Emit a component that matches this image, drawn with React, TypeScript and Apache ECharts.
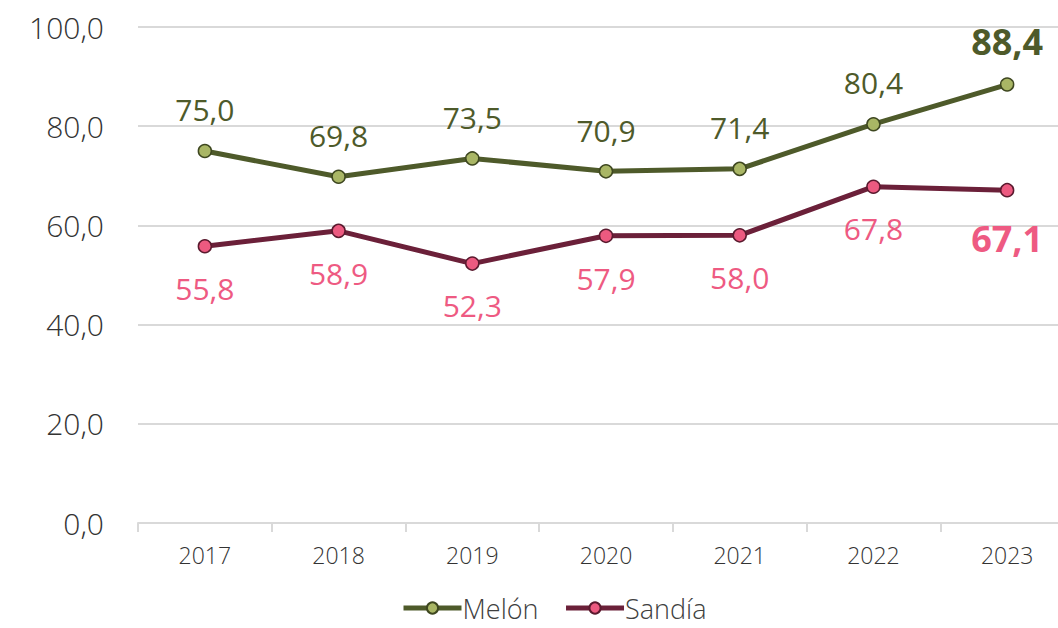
import React, { useEffect, useRef } from "react";
import * as echarts from "echarts";

const years = ["2017", "2018", "2019", "2020", "2021", "2022", "2023"];
const melon = [75.0, 69.8, 73.5, 70.9, 71.4, 80.4, 88.4];
const sandia = [55.8, 58.9, 52.3, 57.9, 58.0, 67.8, 67.1];
const yTicks = [0, 20, 40, 60, 80, 100];

const fmt = (v: number) => v.toFixed(1).replace(".", ",");
const FONT = "'Open Sans', 'Noto Sans', sans-serif";

export default function App() {
  const ref = useRef<HTMLDivElement>(null);
  useEffect(() => {
    if (!ref.current) return;
    const chart = echarts.init(ref.current, undefined, { renderer: "svg" });
    const last = years.length - 1;
    const mkData = (arr: number[], color: string, dist: number) =>
      arr.map((v, i) =>
        i === last
          ? { value: v, label: { fontSize: 36, fontWeight: "bold", color, distance: dist } }
          : { value: v }
      );
    chart.setOption({
      animation: false,
      textStyle: { fontFamily: FONT },
      grid: { left: 138, right: 0, top: 27, bottom: 105, containLabel: false },
      legend: {
        bottom: 6,
        left: 401,
        padding: [0, 0, 0, 0],
        itemWidth: 58,
        itemHeight: 14,
        itemGap: 25,
        lineStyle: { width: 5 },
        textStyle: { fontSize: 27, lineHeight: 28, color: "#404040", fontFamily: FONT, fontWeight: 300, padding: [0, 0, 0, -4] },
        data: ["Melón", "Sandía"],
      },
      xAxis: {
        type: "category",
        data: years,
        boundaryGap: true,
        axisLine: { lineStyle: { color: "#d9d9d9", width: 2 } },
        axisTick: { show: true, length: 9, lineStyle: { color: "#d9d9d9", width: 2 } },
        axisLabel: { fontSize: 23, color: "#333333", margin: 20, fontFamily: FONT, fontWeight: 300 },
      },
      yAxis: {
        type: "value",
        min: yTicks[0],
        max: yTicks[yTicks.length - 1],
        interval: 20,
        axisLine: { show: false },
        axisTick: { show: false },
        splitLine: { lineStyle: { color: "#d9d9d9", width: 2 } },
        axisLabel: {
          fontSize: 30,
          color: "#333333",
          margin: 34,
          fontFamily: FONT,
          fontWeight: 300,
          formatter: (v: number) => fmt(v),
        },
      },
      series: [
        {
          name: "Melón",
          type: "line",
          data: mkData(melon, "#4e5a2a", 18),
          symbol: "circle",
          symbolSize: 13,
          lineStyle: { color: "#4e5a2a", width: 5 },
          itemStyle: { color: "#a9b665", borderColor: "#3e4720", borderWidth: 1.5 },
          label: {
            show: true,
            position: "top",
            distance: 19,
            fontSize: 30,
            color: "#4e5a2a",
            fontFamily: FONT,
            formatter: (p: any) => fmt(p.value),
          },
          z: 3,
        },
        {
          name: "Sandía",
          type: "line",
          data: mkData(sandia, "#ee5a82", 23),
          symbol: "circle",
          symbolSize: 13,
          lineStyle: { color: "#6b2039", width: 5 },
          itemStyle: { color: "#ec5a80", borderColor: "#5a1a2e", borderWidth: 1.5 },
          label: {
            show: true,
            position: "bottom",
            distance: 20,
            fontSize: 30,
            color: "#ee5a82",
            fontFamily: FONT,
            formatter: (p: any) => fmt(p.value),
          },
          z: 2,
        },
      ],
    });
    return () => chart.dispose();
  }, []);
  return (
    <div style={{ position: "fixed", left: 0, top: 0, width: 1058, height: 628, overflow: "hidden", background: "#fff" }}>
      <div ref={ref} style={{ width: 1074, height: 628 }} />
    </div>
  );
}
